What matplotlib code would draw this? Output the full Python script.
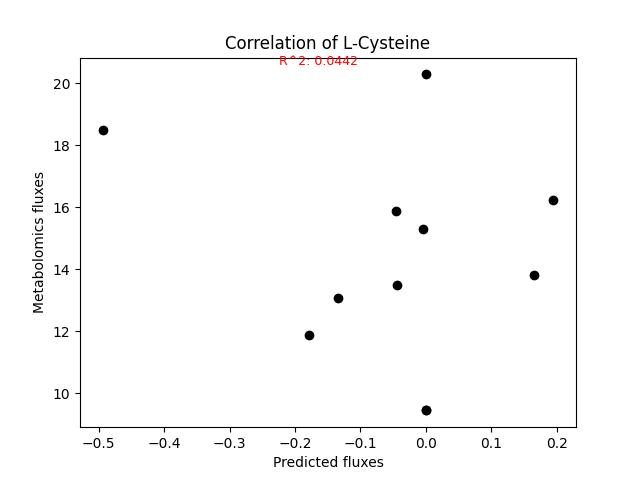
import matplotlib
matplotlib.use("Agg")
import matplotlib.pyplot as plt

# values
predicted = [-0.494, 0.0, -0.045, -0.005, 0.195, 0.165, -0.044, -0.134, -0.179, 0.0, 0.0]
metabolomics = [18.51, 20.29, 15.89, 15.31, 16.25, 13.82, 13.5, 13.07, 11.88, 9.44, 9.44]
r2_label = "R^2: 0.0442"

fig, ax = plt.subplots(figsize=(6.4, 4.8), dpi=100)
ax.scatter(predicted, metabolomics, color="black")
ax.set_title("Correlation of L-Cysteine")
ax.set_xlabel("Predicted fluxes")
ax.set_ylabel("Metabolomics fluxes")
ax.text(-0.164, 20.6, r2_label, color="red", fontsize=9, ha="center")
fig.savefig("out.png")
